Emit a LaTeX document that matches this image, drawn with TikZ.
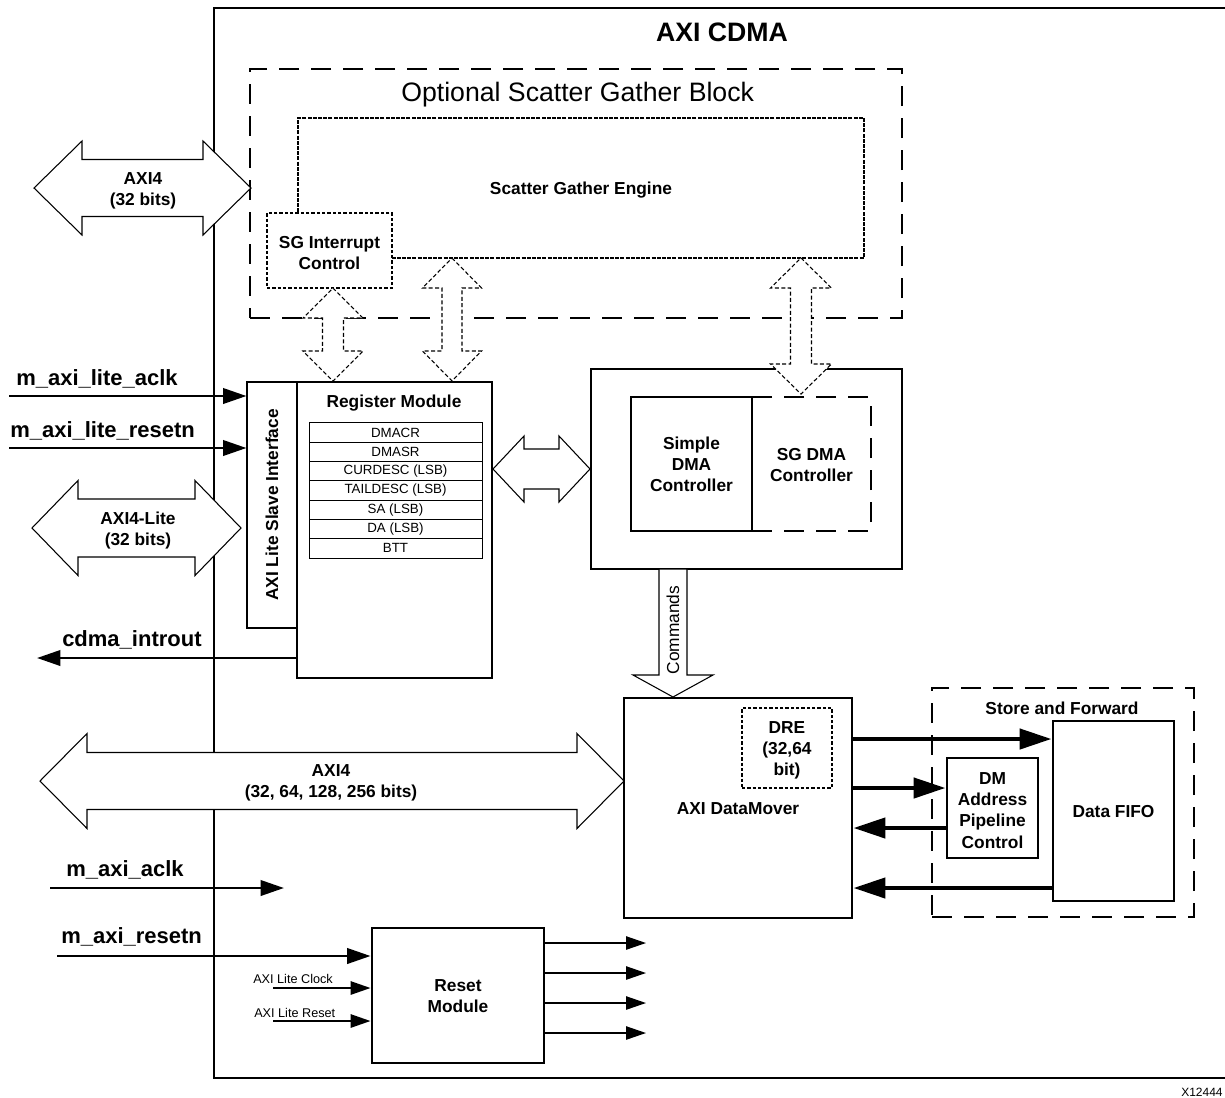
\documentclass[tikz,border=0pt]{standalone}
\usepackage{fontspec}
\setmainfont{Liberation Sans}
\usetikzlibrary{arrows.meta,fit,calc}

% horizontal double block arrow: [style]{x1}{x2}{y}{shaft half}{head half}{head length}
\newcommand{\hdarr}[7][]{%
  \draw[#1] (#2,#4) -- ({#2+#7},{#4-#6}) -- ({#2+#7},{#4-#5}) -- ({#3-#7},{#4-#5})
    -- ({#3-#7},{#4-#6}) -- (#3,#4) -- ({#3-#7},{#4+#6}) -- ({#3-#7},{#4+#5})
    -- ({#2+#7},{#4+#5}) -- ({#2+#7},{#4+#6}) -- cycle;}
% vertical double block arrow: [style]{x}{y1}{y2}{shaft half}{head half}{head length}
\newcommand{\vdarr}[7][]{%
  \draw[#1] (#2,#3) -- ({#2+#6},{#3+#7}) -- ({#2+#5},{#3+#7}) -- ({#2+#5},{#4-#7})
    -- ({#2+#6},{#4-#7}) -- (#2,#4) -- ({#2-#6},{#4-#7}) -- ({#2-#5},{#4-#7})
    -- ({#2-#5},{#3+#7}) -- ({#2-#6},{#3+#7}) -- cycle;}

\tikzset{
  heavybox/.style={draw, line width=2.2pt, inner sep=0pt},
  thinbox/.style={draw, line width=0.8pt, inner sep=0pt},
  bigdash/.style={draw, dash pattern=on 15pt off 9pt, line width=2pt, inner sep=0pt},
  finedash/.style={draw, dash pattern=on 2.5pt off 1.5pt, line width=0.8pt, inner sep=0pt},
  sgedash/.style={draw, dash pattern=on 3pt off 0.9pt, line width=1.6pt, inner sep=0pt},
  lbl/.style={font=\fontsize{13}{15.8}\selectfont\bfseries, align=center, yshift=-1.9pt},
  boxlbl/.style={lbl, yshift=1.4pt},
  sigtxt/.style={font=\fontsize{16.5}{19}\selectfont\bfseries, inner sep=0pt},
  smalltxt/.style={font=\fontsize{9.5}{11}\selectfont, inner sep=0pt},
  regcell/.style={draw, line width=0.7pt, minimum width=129.75pt, minimum height=14.47pt,
    inner sep=0pt, font=\fontsize{10}{11}\selectfont},
  blockarrow/.style={draw, fill=white, line width=0.8pt, line join=miter},
  dblockarrow/.style={blockarrow, dash pattern=on 3pt off 1.8pt},
  sigline/.style={line width=2pt, -{Triangle[length=17.5pt,width=11.5pt]}},
  smallsig/.style={line width=1.5pt, -{Triangle[length=15pt,width=10pt]}},
  outsig/.style={line width=1.1pt, -{Triangle[length=15pt,width=10pt]}},
  fatsig/.style={line width=3.4pt, -{Triangle[length=24pt,width=15pt]}},
}

\begin{document}
\begin{tikzpicture}[x=0.75pt,y=-0.75pt]
\clip[use as bounding box] (0,0) rectangle (1225,1097);
\fill[white] (0,0) rectangle (1225,1097);

% main AXI CDMA box (right side runs off the picture)
\draw[line width=1.9pt] (1240,8) -- (214,8) -- (214,1078) -- (1240,1078);
\node[font=\fontsize{20}{24}\selectfont\bfseries] (title) at (722,32) {AXI CDMA};

% optional scatter gather block
\node[bigdash, fit={(250,69)(902,318)}] (sgb) {};
\node[font=\fontsize{20}{24}\selectfont, anchor=base west, inner sep=0pt] (sgbt) at (401,101) {Optional Scatter Gather Block};
\node[sgedash, fit={(298,118)(864,258)}] (sge) {};
\node[lbl] (sget) at (sge.center) {Scatter Gather Engine};
\node[finedash, fill=white, fit={(267,213)(392,288)}] (sgi) {};
\node[lbl] (sgit) at (sgi.center) {SG Interrupt\\Control};

% AXI lite slave interface and register module
\node[thinbox, fit={(247,382)(297,628)}] (lite) {};
\node[font=\fontsize{13}{15.8}\selectfont\bfseries, rotate=90] (litet) at (lite.center) {AXI Lite Slave Interface};
\node[heavybox, fit={(297,382)(492,678)}] (reg) {};
\node[lbl] (regt) at (394,401) {Register Module};
\node[regcell] (r1) at (395.5,432.6) {DMACR};
\node[regcell] (r2) at (395.5,451.9) {DMASR};
\node[regcell] (r3) at (395.5,471.2) {CURDESC (LSB)};
\node[regcell] (r4) at (395.5,490.5) {TAILDESC (LSB)};
\node[regcell] (r5) at (395.5,509.8) {SA (LSB)};
\node[regcell] (r6) at (395.5,529.1) {DA (LSB)};
\node[regcell] (r7) at (395.5,548.4) {BTT};

% DMA controllers
\node[heavybox, fit={(591,369)(902,569)}] (dma) {};
\node[bigdash, line width=2.2pt, fit={(752,397)(871,531)}] (sgdma) {};
\node[boxlbl] (sgdmat) at (sgdma.center) {SG DMA\\Controller};
\node[heavybox, fit={(631,397)(752,531)}] (sdma) {};
\node[boxlbl] (sdmat) at (sdma.center) {Simple\\DMA\\Controller};

% dashed block arrows from the scatter gather block
\vdarr[dblockarrow]{333}{288}{381}{10.5}{30}{30}
\vdarr[dblockarrow]{452}{258}{381}{10}{29.5}{30}
\vdarr[dblockarrow]{801}{258}{394}{10.5}{30.5}{30}

% register module <-> DMA controller
\hdarr[blockarrow]{493}{590}{469}{20}{33}{31}

% commands arrow
\draw[blockarrow] (659,569) -- (659,675) -- (633,675) -- (673,697) -- (713,675) -- (687,675) -- (687,569) -- cycle;
\node[font=\fontsize{13}{15}\selectfont, rotate=90] (cmd) at (673,630) {Commands};

% DataMover and store and forward
\node[heavybox, fit={(624,698)(852,918)}] (dmv) {};
\node[boxlbl] (dmvt) at (dmv.center) {AXI DataMover};
\node[finedash, fit={(742,708)(832,788)}] (dre) {};
\node[lbl] (dret) at (dre.center) {DRE\\(32,64\\bit)};
\node[bigdash, line width=2.2pt, fit={(932,688)(1194,917)}] (sf) {};
\node[lbl] (sft) at (1062,705.5) {Store and Forward};
\node[heavybox, fit={(1053,721)(1174,901)}] (fifo) {};
\node[boxlbl] (fifot) at (fifo.center) {Data FIFO};
\node[heavybox, fill=white, fit={(947,758)(1038,858)}] (dmaddr) {};
\node[lbl] (dmaddrt) at (dmaddr.center) {DM\\Address\\Pipeline\\Control};

\coordinate (ya) at (0,739);
\coordinate (yb) at (0,788);
\coordinate (yc) at (0,828);
\coordinate (yd) at (0,888);
\draw[fatsig] (dmv.east |- ya) -- (fifo.west |- ya);
\draw[fatsig] (dmv.east |- yb) -- (dmaddr.west |- yb);
\draw[fatsig] (dmaddr.west |- yc) -- (dmv.east |- yc);
\draw[fatsig] (fifo.west |- yd) -- (dmv.east |- yd);

% external AXI interfaces (block arrows)
\hdarr[blockarrow]{34}{251}{188}{28.5}{47}{48}
\node[lbl] (axi4a) at (143,188) {AXI4\\(32 bits)};
\hdarr[blockarrow]{32}{241}{528}{29}{47.5}{46}
\node[lbl] (axil) at (138,528) {AXI4-Lite\\(32 bits)};
\hdarr[blockarrow]{40}{624}{781}{28.5}{47.5}{47}
\node[lbl] (axi4b) at (331,780) {AXI4\\(32, 64, 128, 256 bits)};

% reset module
\node[heavybox, fit={(372,928)(544,1063)}] (reset) {};
\node[boxlbl] (resett) at (reset.center) {Reset\\Module};

% signals
\coordinate (laclk) at (9,396);
\draw[sigline] (laclk) -- (laclk -| lite.west);
\node[sigtxt, anchor=base west] (laclkt) at (16,385) {m\_axi\_lite\_aclk};
\coordinate (lrst) at (9,448);
\draw[sigline] (lrst) -- (lrst -| lite.west);
\node[sigtxt, anchor=base west] (lrstt) at (10,437) {m\_axi\_lite\_resetn};
\coordinate (intr) at (37,658);
\draw[sigline] (intr -| reg.west) -- (intr);
\node[sigtxt, anchor=base west] (intrt) at (62,646) {cdma\_introut};
\coordinate (aclkA) at (50,888);
\coordinate (aclkB) at (284,888);
\draw[sigline] (aclkA) -- (aclkB);
\node[sigtxt, anchor=base west] (aclkt) at (66,876) {m\_axi\_aclk};
\coordinate (rstA) at (57,956);
\draw[sigline] (rstA) -- (rstA -| reset.west);
\node[sigtxt, anchor=base west] (rstt) at (61,943) {m\_axi\_resetn};

\coordinate (lcA) at (273,988);
\draw[smallsig] (lcA) -- (lcA -| reset.west);
\node[smalltxt, anchor=base west] (lct) at (253,983) {AXI Lite Clock};
\coordinate (lrA) at (273,1021);
\draw[smallsig] (lrA) -- (lrA -| reset.west);
\node[smalltxt, anchor=base west] (lrt) at (254,1017) {AXI Lite Reset};

\coordinate (ro1) at (646,943);
\coordinate (ro2) at (646,973);
\coordinate (ro3) at (646,1003);
\coordinate (ro4) at (646,1033);
\foreach \k in {1,2,3,4} {\draw[outsig] (reset.east |- ro\k) -- (ro\k);}

\node[font=\fontsize{9}{10}\selectfont, inner sep=0pt, anchor=base west] (xid) at (1181,1096) {X12444};
\end{tikzpicture}
\end{document}
